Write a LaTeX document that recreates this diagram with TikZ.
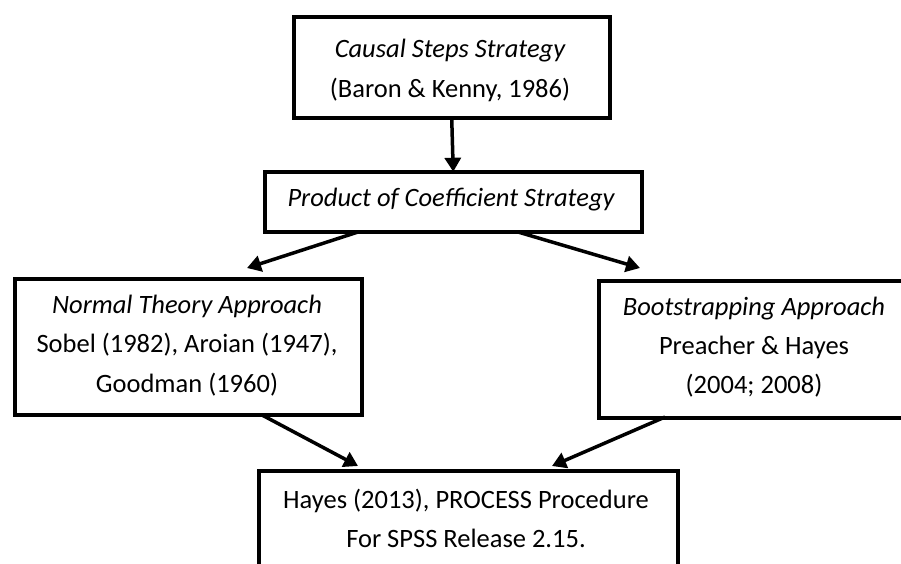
\documentclass[tikz,border=0pt]{standalone}
\usepackage{fontspec}
\setmainfont{Carlito}
\usetikzlibrary{arrows.meta}
\begin{document}
\begin{tikzpicture}[x=1pt,y=-1pt,
  boxstyle/.style={draw=black,line width=3.5pt,inner sep=0pt,anchor=north west},
  txt/.style={anchor=base,inner sep=0pt,font=\fontsize{26.5}{30}\selectfont},
  conn/.style={line width=3.5pt,-{Triangle[length=14pt,width=16pt]}}]
\useasboundingbox (0,0) rectangle (901,563);
\fill[white] (0,0) rectangle (901,563);
\clip (0,0) rectangle (901,563);
% boxes
\node[boxstyle,minimum width=316pt,minimum height=101pt] (b1) at (292,15) {};
\node[boxstyle,minimum width=377pt,minimum height=60pt] (b2) at (263,170) {};
\node[boxstyle,minimum width=347pt,minimum height=136pt] (b3) at (13,277) {};
\node[boxstyle,minimum width=340pt,minimum height=137pt] (b4) at (597,279) {};
\node[boxstyle,minimum width=419pt,minimum height=120pt] (b5) at (257,469) {};
% texts
\node[txt] (t1a) at (450,57) {\itshape Causal Steps Strategy};
\node[txt] (t1b) at (450,97) {(Baron \& Kenny, 1986)};
\node[txt] (t2) at (451,206) {\itshape Product of Coefficient Strategy};
\node[txt] (t3a) at (187,313) {\itshape Normal Theory Approach};
\node[txt] (t3b) at (187,352) {Sobel (1982), Aroian (1947),};
\node[txt] (t3c) at (187,392) {Goodman (1960)};
\node[txt] (t4a) at (754,315) {\itshape Bootstrapping Approach};
\node[txt] (t4b) at (754,354) {Preacher \& Hayes};
\node[txt] (t4c) at (754,393) {(2004; 2008)};
\node[txt] (t5a) at (466,508) {Hayes (2013), PROCESS Procedure};
\node[txt] (t5b) at (466,547) {For SPSS Release 2.15.};
% connector ends
\coordinate (a1s) at (b1.south);
\coordinate (a1e) at (b2.north);
\coordinate (a2s) at (358,232);
\coordinate (a2e) at (247,268);
\coordinate (a3s) at (518,232);
\coordinate (a3e) at (640,268);
\coordinate (a4s) at (262,415);
\coordinate (a4e) at (358,466);
\coordinate (a5s) at (665,417);
\coordinate (a5e) at (552,466);
\draw[conn] (a1s) -- ([yshift=-1.75pt]a1e);
\draw[conn] (a2s) -- (a2e);
\draw[conn] (a3s) -- (a3e);
\draw[conn] (a4s) -- (a4e);
\draw[conn] (a5s) -- (a5e);
\end{tikzpicture}
\end{document}
